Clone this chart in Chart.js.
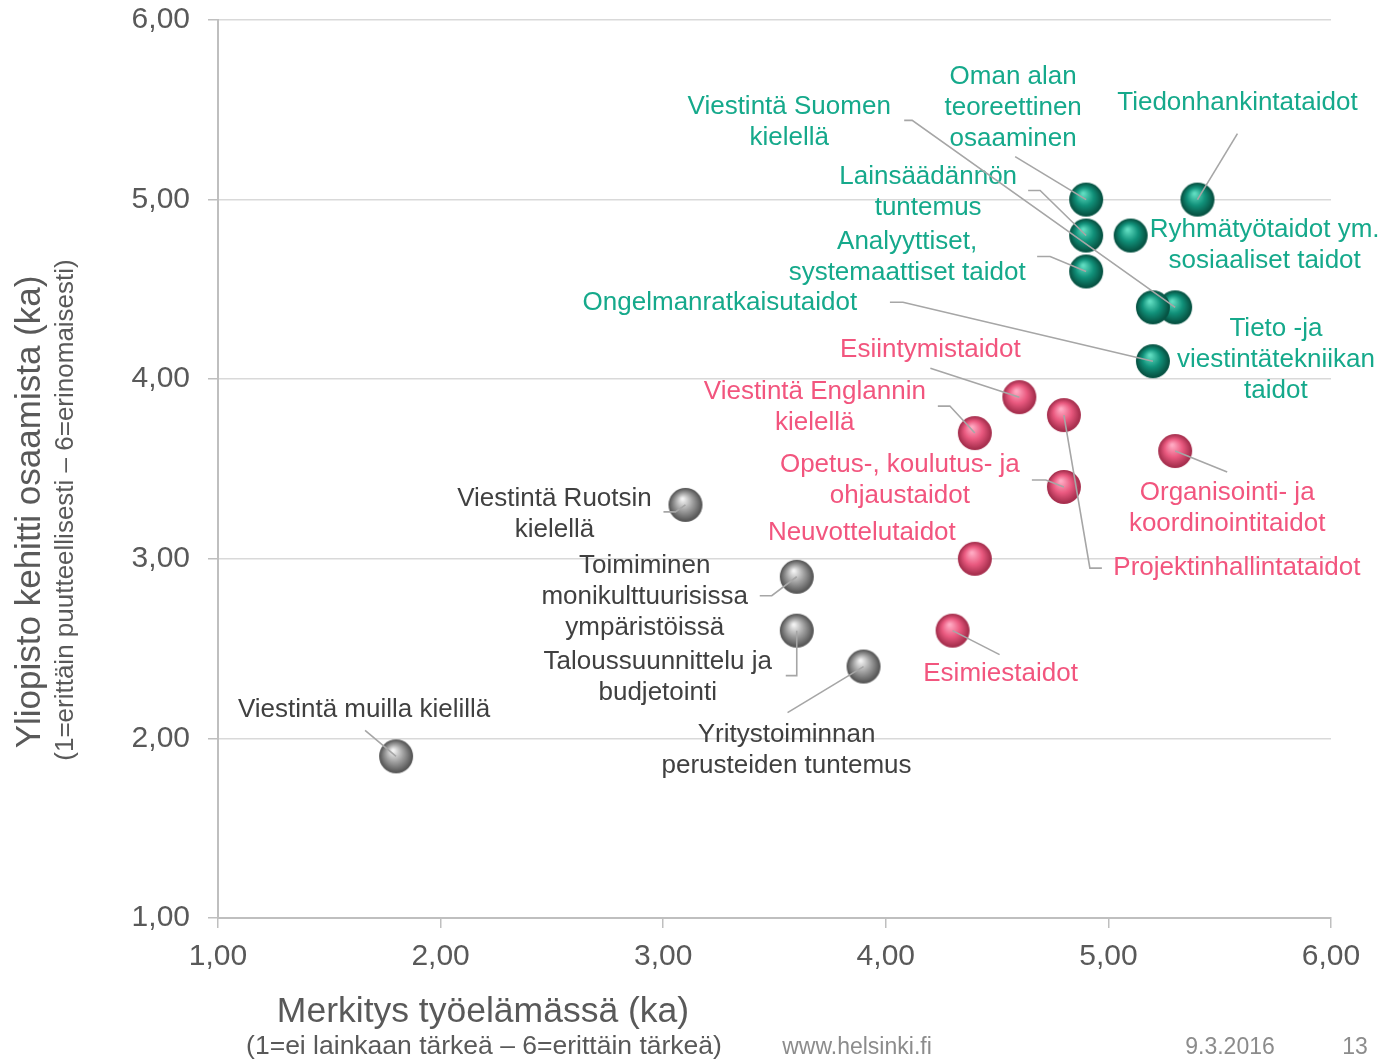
<!DOCTYPE html>
<html>
<head>
<meta charset="utf-8">
<style>
  body { margin: 0; background: #fff; }
  canvas { display: block; }
</style>
<script src="https://cdn.jsdelivr.net/npm/chart.js@4"></script>
</head>
<body>
<canvas id="skillsChart" width="1394" height="1062"></canvas>
<script>
// values: x = importance at work, y = how well university developed it
const greenNames = [
  'Oman alan teoreettinen osaaminen',
  'Tiedonhankintataidot',
  'Lainsäädännön tuntemus',
  'Ryhmätyötaidot ym. sosiaaliset taidot',
  'Analyyttiset, systemaattiset taidot',
  'Viestintä Suomen kielellä',
  'Tieto -ja viestintätekniikan taidot',
  'Ongelmanratkaisutaidot',
];
const greenX = [4.9, 5.4, 4.9, 5.1, 4.9, 5.3, 5.2, 5.2];
const greenY = [5.0, 5.0, 4.8, 4.8, 4.6, 4.4, 4.4, 4.1];

const pinkNames = [
  'Esiintymistaidot',
  'Projektinhallintataidot',
  'Viestintä Englannin kielellä',
  'Organisointi- ja koordinointitaidot',
  'Opetus-, koulutus- ja ohjaustaidot',
  'Neuvottelutaidot',
  'Esimiestaidot',
];
const pinkX = [4.6, 4.8, 4.4, 5.3, 4.8, 4.4, 4.3];
const pinkY = [3.9, 3.8, 3.7, 3.6, 3.4, 3.0, 2.6];

const grayNames = [
  'Viestintä Ruotsin kielellä',
  'Toimiminen monikulttuurisissa ympäristöissä',
  'Taloussuunnittelu ja budjetointi',
  'Yritystoiminnan perusteiden tuntemus',
  'Viestintä muilla kielillä',
];
const grayX = [3.1, 3.6, 3.6, 3.9, 1.8];
const grayY = [3.3, 2.9, 2.6, 2.4, 1.9];

const tickValues = [1, 2, 3, 4, 5, 6];

// label placement: text lines, offset of first line from the point (px), leader line bends
const labelLayout = {
  'Oman alan teoreettinen osaaminen': { lines: ['Oman alan', 'teoreettinen', 'osaaminen'], dx: -73, dy: -123, path: [[-71, -43]] },
  'Tiedonhankintataidot': { lines: ['Tiedonhankintataidot'], dx: 40, dy: -97, path: [[40, -66]] },
  'Lainsäädännön tuntemus': { lines: ['Lainsäädännön', 'tuntemus'], dx: -158, dy: -59, path: [[-58, -45], [-46, -45]] },
  'Ryhmätyötaidot ym. sosiaaliset taidot': { lines: ['Ryhmätyötaidot ym.', 'sosiaaliset taidot'], dx: 134, dy: -6, path: [] },
  'Analyyttiset, systemaattiset taidot': { lines: ['Analyyttiset,', 'systemaattiset taidot'], dx: -179, dy: -30, path: [[-49, -15], [-36, -15]] },
  'Viestintä Suomen kielellä': { lines: ['Viestintä Suomen', 'kielellä'], dx: -386, dy: -201, path: [[-271, -187], [-263, -187]] },
  'Tieto -ja viestintätekniikan taidot': { lines: ['Tieto -ja', 'viestintätekniikan', 'taidot'], dx: 123, dy: 21, path: [] },
  'Ongelmanratkaisutaidot': { lines: ['Ongelmanratkaisutaidot'], dx: -433, dy: -58, path: [[-263, -59], [-250, -59]] },
  'Esiintymistaidot': { lines: ['Esiintymistaidot'], dx: -89, dy: -47, path: [[-89, -29]] },
  'Projektinhallintataidot': { lines: ['Projektinhallintataidot'], dx: 173, dy: 153, path: [[38, 153], [26, 153]] },
  'Viestintä Englannin kielellä': { lines: ['Viestintä Englannin', 'kielellä'], dx: -160, dy: -41, path: [[-37, -27], [-25, -27]] },
  'Organisointi- ja koordinointitaidot': { lines: ['Organisointi- ja', 'koordinointitaidot'], dx: 52, dy: 42, path: [[52, 21]] },
  'Opetus-, koulutus- ja ohjaustaidot': { lines: ['Opetus-, koulutus- ja', 'ohjaustaidot'], dx: -164, dy: -22, path: [[-32, -7], [-18, -7]] },
  'Neuvottelutaidot': { lines: ['Neuvottelutaidot'], dx: -113, dy: -26, path: [] },
  'Esimiestaidot': { lines: ['Esimiestaidot'], dx: 48, dy: 43, path: [[47, 24]] },
  'Viestintä Ruotsin kielellä': { lines: ['Viestintä Ruotsin', 'kielellä'], dx: -131, dy: -6, path: [[-22, 7], [-10, 7]] },
  'Toimiminen monikulttuurisissa ympäristöissä': { lines: ['Toimiminen', 'monikulttuurisissa', 'ympäristöissä'], dx: -152, dy: -11, path: [[-37, 19], [-25, 19]] },
  'Taloussuunnittelu ja budjetointi': { lines: ['Taloussuunnittelu ja', 'budjetointi'], dx: -139, dy: 31, path: [[-11, 45], [0, 45]] },
  'Yritystoiminnan perusteiden tuntemus': { lines: ['Yritystoiminnan', 'perusteiden tuntemus'], dx: -77, dy: 68, path: [[-76, 46]] },
  'Viestintä muilla kielillä': { lines: ['Viestintä muilla kielillä'], dx: -32, dy: -47, path: [[-31, -26]] },
};

const FONT = '"Liberation Sans", Arial, sans-serif';
const AXIS_TEXT = '#595959';

// shaded ball used as point style
function makeBall(light, base, dark) {
  const r = 17;
  const c = document.createElement('canvas');
  c.width = c.height = 2 * r + 2;
  const g = c.getContext('2d');
  const cx = r + 1, cy = r + 1;
  const grad = g.createRadialGradient(cx - 3, cy - 6, 1, cx, cy, r);
  grad.addColorStop(0, light);
  grad.addColorStop(0.5, base);
  grad.addColorStop(0.93, dark);
  grad.addColorStop(1, dark);
  g.fillStyle = grad;
  g.beginPath();
  g.arc(cx, cy, r, 0, Math.PI * 2);
  g.fill();
  return c;
}

function toPoints(xs, ys) {
  return xs.map((x, i) => ({ x: x, y: ys[i] }));
}

const groups = [
  { names: greenNames, xs: greenX, ys: greenY, text: '#15a98b', ball: makeBall('#5fdcc0', '#11917a', '#075444') },
  { names: pinkNames, xs: pinkX, ys: pinkY, text: '#f2557e', ball: makeBall('#ffa9c2', '#ea5a80', '#a8304f') },
  { names: grayNames, xs: grayX, ys: grayY, text: '#404040', ball: makeBall('#f2f2f2', '#9e9e9e', '#595959') },
];

const labelPlugin = {
  id: 'labels',
  afterDatasetsDraw(chart) {
    const ctx = chart.ctx;
    const xs = chart.scales.x, ys = chart.scales.y;
    ctx.save();
    groups.forEach((grp) => {
      grp.names.forEach((name, i) => {
        const px = xs.getPixelForValue(grp.xs[i]);
        const py = ys.getPixelForValue(grp.ys[i]);
        const lay = labelLayout[name];
        if (lay.path.length) {
          ctx.strokeStyle = '#a6a6a6';
          ctx.lineWidth = 1.6;
          ctx.beginPath();
          lay.path.forEach((p, k) => {
            if (k === 0) ctx.moveTo(px + p[0], py + p[1]);
            else ctx.lineTo(px + p[0], py + p[1]);
          });
          ctx.lineTo(px, py);
          ctx.stroke();
        }
        ctx.fillStyle = grp.text;
        ctx.font = '26px ' + FONT;
        ctx.textAlign = 'center';
        ctx.textBaseline = 'middle';
        lay.lines.forEach((t, k) => {
          ctx.fillText(t, px + lay.dx, py + lay.dy + k * 31);
        });
      });
    });

    // axis titles and footer
    ctx.fillStyle = AXIS_TEXT;
    ctx.textAlign = 'center';
    ctx.textBaseline = 'middle';
    ctx.font = '35.5px ' + FONT;
    ctx.fillText('Merkitys työelämässä (ka)', 483, 1012);
    ctx.font = '26.5px ' + FONT;
    ctx.fillText('(1=ei lainkaan tärkeä – 6=erittäin tärkeä)', 484, 1047);

    ctx.save();
    ctx.translate(30, 512);
    ctx.rotate(-Math.PI / 2);
    ctx.font = '35px ' + FONT;
    ctx.fillText('Yliopisto kehitti osaamista (ka)', 0, 0);
    ctx.restore();
    ctx.save();
    ctx.translate(66, 510);
    ctx.rotate(-Math.PI / 2);
    ctx.font = '26px ' + FONT;
    ctx.fillText('(1=erittäin puutteellisesti – 6=erinomaisesti)', 0, 0);
    ctx.restore();

    ctx.fillStyle = '#8c8c8c';
    ctx.font = '23px ' + FONT;
    ctx.fillText('www.helsinki.fi', 857, 1048);
    ctx.fillText('9.3.2016', 1230, 1048);
    ctx.fillText('13', 1355, 1048);
    ctx.restore();
  },
};

const fmt = (v) => v.toFixed(2).replace('.', ',');

new Chart(document.getElementById('skillsChart'), {
  type: 'scatter',
  data: {
    datasets: groups.map((grp) => ({
      data: toPoints(grp.xs, grp.ys),
      pointStyle: grp.ball,
      pointRadius: 17,
      pointHoverRadius: 17,
    })),
  },
  options: {
    responsive: false,
    animation: false,
    events: [],
    layout: { padding: { top: 20, right: 63, left: 0, bottom: 0 } },
    plugins: {
      legend: { display: false },
      tooltip: { enabled: false },
    },
    scales: {
      x: {
        type: 'linear',
        min: 1,
        max: 6,
        afterBuildTicks: (scale) => { scale.ticks = tickValues.map((v) => ({ value: v })); },
        afterFit: (scale) => { scale.height = 144; scale.paddingLeft = 0; scale.paddingRight = 0; },
        ticks: { callback: fmt, color: AXIS_TEXT, font: { size: 30, family: FONT }, padding: 11, maxRotation: 0 },
        grid: { drawOnChartArea: false, tickLength: 10, color: '#bfbfbf', lineWidth: 1.5 },
        border: { color: '#bfbfbf', width: 2 },
      },
      y: {
        type: 'linear',
        min: 1,
        max: 6,
        afterBuildTicks: (scale) => { scale.ticks = tickValues.map((v) => ({ value: v })); },
        afterFit: (scale) => { scale.width = 218; scale.paddingTop = 0; scale.paddingBottom = 0; },
        ticks: { callback: fmt, color: AXIS_TEXT, font: { size: 30, family: FONT }, padding: 18 },
        grid: { tickLength: 10, color: '#d9d9d9', tickColor: '#bfbfbf', lineWidth: 1.5 },
        border: { color: '#bfbfbf', width: 2 },
      },
    },
  },
  plugins: [labelPlugin],
});
</script>
</body>
</html>
